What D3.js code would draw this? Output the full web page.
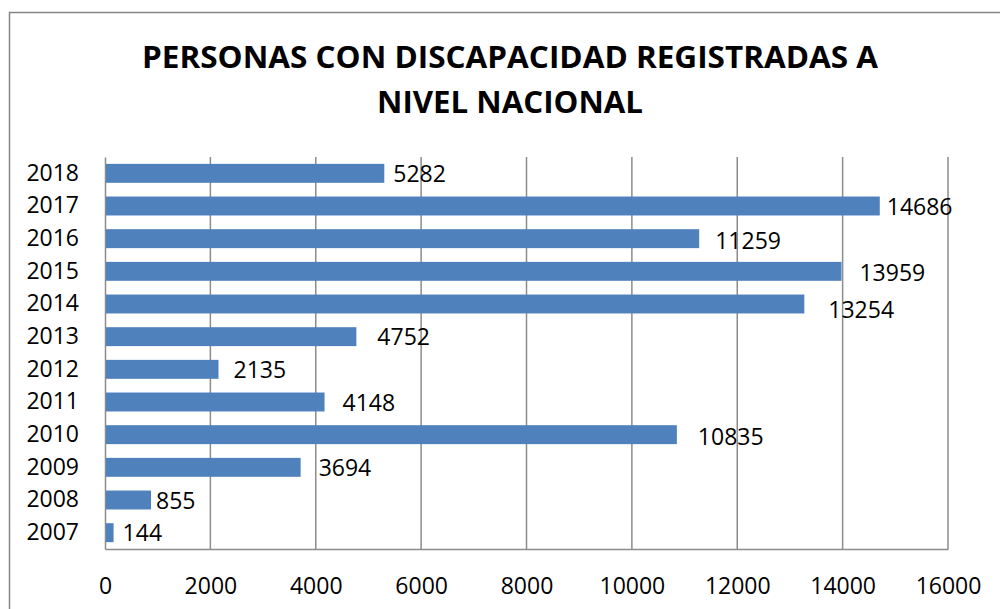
<!DOCTYPE html>
<html>
<head>
<meta charset="utf-8">
<script src="https://cdn.jsdelivr.net/npm/d3@7"></script>
<style>
  body { margin: 0; background: #fff; }
  text { font-family: "Open Sans", "Noto Sans", sans-serif; fill: #000; }
</style>
</head>
<body>
<div id="container"></div>
<script>
const years = ['2018', '2017', '2016', '2015', '2014', '2013', '2012', '2011', '2010', '2009', '2008', '2007'];
const values = [5282, 14686, 11259, 13959, 13254, 4752, 2135, 4148, 10835, 3694, 855, 144];
const xTicks = [0, 2000, 4000, 6000, 8000, 10000, 12000, 14000, 16000];
// manual label nudges (px) as placed in the original
const labelDx = [10, 8, 17, 19, 25, 22, 16, 19, 22, 19, 6, 10];
const labelDy = [1, 1, 2, 2, 6, 0, 1, 1, 2, 1, 1, 0];

const w = 1000;
const h = 609;
const pLeft = 105, pRight = 948, pTop = 157, pBottom = 549;

const svg = d3.select('#container')
  .append('svg')
    .attr('width', w)
    .attr('height', h);

// chart frame
svg.append('rect')
  .attr('x', 9.5)
  .attr('y', 12.5)
  .attr('width', 1100)
  .attr('height', 700)
  .attr('fill', 'none')
  .attr('stroke', '#868686')
  .attr('stroke-width', 1.5);

svg.append('text')
  .attr('x', 510)
  .attr('y', 68)
  .attr('text-anchor', 'middle')
  .style('font-size', '30px')
  .style('font-weight', 'bold')
  .attr('textLength', 736)
  .attr('lengthAdjust', 'spacingAndGlyphs')
  .text('PERSONAS CON DISCAPACIDAD REGISTRADAS A');

svg.append('text')
  .attr('x', 510)
  .attr('y', 113)
  .attr('text-anchor', 'middle')
  .style('font-size', '30px')
  .style('font-weight', 'bold')
  .attr('textLength', 266)
  .attr('lengthAdjust', 'spacingAndGlyphs')
  .text('NIVEL NACIONAL');

const x = d3.scaleLinear()
  .domain([0, 16000])
  .range([pLeft, pRight]);

const y = d3.scaleBand()
  .domain(years)
  .range([pTop, pBottom])
  .paddingInner(0.42)
  .paddingOuter(0.21);

// gridlines
svg.append('g')
  .selectAll('line')
  .data(xTicks.slice(1))
  .enter()
  .append('line')
    .attr('x1', d => x(d))
    .attr('x2', d => x(d))
    .attr('y1', pTop)
    .attr('y2', pBottom)
    .attr('stroke', '#8c8c8c')
    .attr('stroke-width', 1.5);

const xAxis = d3.axisBottom(x)
  .tickValues(xTicks)
  .tickFormat(d3.format('d'))
  .tickSize(0)
  .tickPadding(29);

svg.append('g')
  .attr('transform', 'translate(0, ' + pBottom + ')')
  .call(xAxis)
  .call(g => g.select('.domain').attr('stroke', '#8c8c8c').attr('stroke-width', 1.5))
  .call(g => g.selectAll('text').style('font-size', '23px').attr('fill', '#000'));

const yAxis = d3.axisLeft(y)
  .tickSize(0)
  .tickPadding(26);

svg.append('g')
  .attr('transform', 'translate(' + pLeft + ', 0)')
  .call(yAxis)
  .call(g => g.select('.domain').attr('stroke', '#8c8c8c').attr('stroke-width', 1.5))
  .call(g => g.selectAll('text').style('font-size', '23px').attr('fill', '#000'));

svg.selectAll('rect.bar')
  .data(values)
  .enter()
  .append('rect')
    .attr('class', 'bar')
    .attr('x', x(0) + 1)
    .attr('y', (d, i) => y(years[i]))
    .attr('width', d => x(d) - x(0))
    .attr('height', y.bandwidth())
    .attr('fill', '#4f81bd');

svg.selectAll('text.lbl')
  .data(values)
  .enter()
  .append('text')
    .attr('class', 'lbl')
    .attr('x', (d, i) => x(d) + labelDx[i])
    .attr('y', (d, i) => y(years[i]) + y.bandwidth() / 2 + labelDy[i])
    .attr('dy', '0.35em')
    .style('font-size', '23px')
    .text(d => d);
</script>
</body>
</html>
